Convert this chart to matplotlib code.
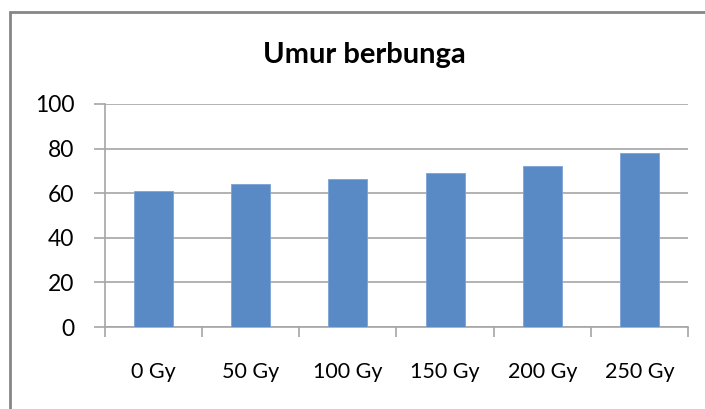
import matplotlib.pyplot as plt
from matplotlib.patches import Rectangle
import numpy as np

# --- data -------------------------------------------------------------
doses = ["0 Gy", "50 Gy", "100 Gy", "150 Gy", "200 Gy", "250 Gy"]
umur = [61, 64, 66.2, 69.2, 72.2, 77.9]
yticks = [0, 20, 40, 60, 80, 100]

plt.rcParams["font.family"] = ["Lato", "DejaVu Sans"]
grey = "#a6a6a6"

fig = plt.figure(figsize=(7.05, 4.09), dpi=100)
ax = fig.add_axes([105 / 705, 1 - 327 / 409, (688 - 105) / 705, (327 - 104) / 409])

x = np.arange(len(doses))
ax.bar(x, umur, width=0.4, color="#5a8ac6", edgecolor="#7aa3d6",
       linewidth=0.6, zorder=3)

ax.set_xlim(-0.5, len(doses) - 0.5)
ax.set_ylim(0, 100)
ax.set_yticks(yticks)
ax.grid(axis="y", color=grey, linewidth=1.2, zorder=0)

# category labels in the middle, tick marks on the boundaries
ax.set_xticks(x)
ax.set_xticklabels(doses)
ax.set_xticks(np.arange(-0.5, len(doses), 1.0), minor=True)
ax.tick_params(axis="x", which="major", length=0, pad=25, labelsize=15.5,
               colors="black")
ax.tick_params(axis="x", which="minor", length=7, width=1.2, color=grey,
               direction="out")
ax.tick_params(axis="y", length=8, width=1.2, color=grey, pad=14,
               labelsize=16.5)

for side in ("top", "right"):
    ax.spines[side].set_visible(False)
for side in ("left", "bottom"):
    ax.spines[side].set_color(grey)
    ax.spines[side].set_linewidth(1.2)

fig.text(364 / 705, 1 - 55 / 409, "Umur berbunga", ha="center", va="center",
         fontsize=21, fontweight="bold")

# outer chart-area border (runs off the right and bottom edges)
fig.patches.append(Rectangle((10 / 705, -0.05), 1.1, 1 - 12 / 409 + 0.05,
                             transform=fig.transFigure, fill=False,
                             edgecolor="#868686", linewidth=2))

fig.savefig("out.png", dpi=100, facecolor="white")
